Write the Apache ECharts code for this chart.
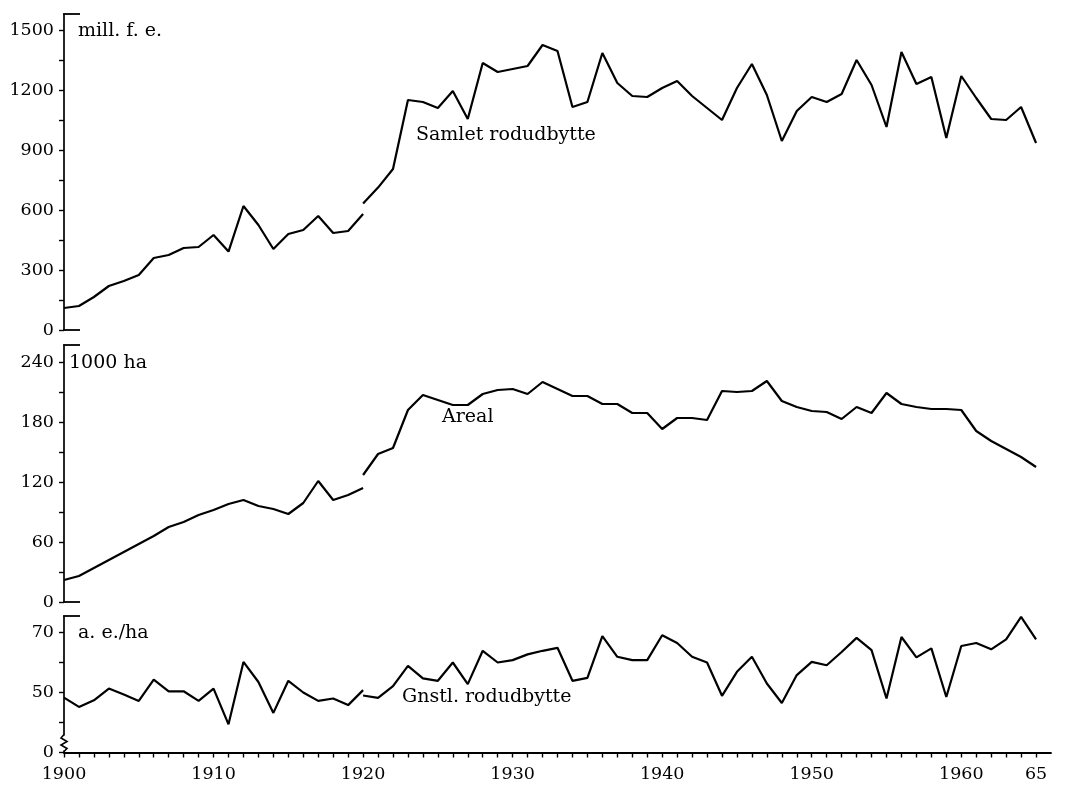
<!DOCTYPE html>
<html>
<head>
<meta charset="utf-8">
<title>Rodudbytte 1900-1965</title>
<script src="https://cdn.jsdelivr.net/npm/echarts@6/dist/echarts.min.js"></script>
<style>
  html, body { margin: 0; padding: 0; background: #fff; }
  #chart { width: 1067px; height: 788px; }
</style>
</head>
<body>
<div id="chart"></div>
<script>
// år - gammel opgørelse (til 1920) og ny opgørelse (fra 1920, incl. Sønderjylland)
var yearsOld = [1900, 1901, 1902, 1903, 1904, 1905, 1906, 1907, 1908, 1909, 1910,
    1911, 1912, 1913, 1914, 1915, 1916, 1917, 1918, 1919, 1920];
var yearsNew = [1920, 1921, 1922, 1923, 1924, 1925, 1926, 1927, 1928, 1929,
    1930, 1931, 1932, 1933, 1934, 1935, 1936, 1937, 1938, 1939,
    1940, 1941, 1942, 1943, 1944, 1945, 1946, 1947, 1948, 1949,
    1950, 1951, 1952, 1953, 1954, 1955, 1956, 1957, 1958, 1959,
    1960, 1961, 1962, 1963, 1964, 1965];

// Samlet rodudbytte, mill. f.e.
var totalOld = [110, 120, 165, 220, 245, 275, 360, 375, 410, 415, 475,
    392, 620, 525, 405, 480, 500, 570, 485, 495, 580];
var totalNew = [632, 712, 805, 1150, 1140, 1110, 1195, 1055, 1335, 1290,
    1305, 1320, 1425, 1395, 1115, 1140, 1385, 1235, 1170, 1165,
    1210, 1245, 1170, 1110, 1050, 1210, 1330, 1175, 945, 1095,
    1165, 1140, 1180, 1350, 1225, 1015, 1390, 1230, 1265, 960,
    1270, 1160, 1055, 1050, 1115, 935];

// Areal, 1000 ha
var areaOld = [22, 26, 34, 42, 50, 58, 66, 75, 80, 87, 92,
    98, 102, 96, 93, 88, 99, 121, 102, 107, 114];
var areaNew = [127, 148, 154, 192, 207, 202, 197, 197, 208, 212,
    213, 208, 220, 213, 206, 206, 198, 198, 189, 189,
    173, 184, 184, 182, 211, 210, 211, 221, 201, 195,
    191, 190, 183, 195, 189, 209, 198, 195, 193, 193,
    192, 171, 161, 153, 145, 135];

// Gnstl. rodudbytte, a.e./ha
var yieldOld = [48.3, 45.2, 47.4, 51.3, 49.3, 47.2, 54.3, 50.4, 50.4, 47.2, 51.3,
    39.4, 60.2, 53.5, 43.2, 53.9, 50, 47.2, 48, 45.8, 50.8];
var yieldNew = [49, 48.2, 52.1, 58.9, 54.7, 53.9, 60, 52.8, 63.9, 60,
    60.8, 62.7, 63.9, 64.9, 53.9, 54.9, 68.8, 61.9, 60.8, 60.8,
    69.1, 66.5, 61.9, 60, 48.9, 56.9, 61.9, 53, 46.5, 55.8,
    60.2, 59.1, 63.5, 68.2, 64.1, 48, 68.5, 61.7, 64.7, 48.5,
    65.5, 66.5, 64.4, 67.7, 75.2, 67.7];

// tick labels
var xLabels = [1900, 1910, 1920, 1930, 1940, 1950, 1960, 1965];
var totalLabels = [0, 300, 600, 900, 1200, 1500];
var totalTicks = [0, 150, 300, 450, 600, 750, 900, 1050, 1200, 1350, 1500];
var areaLabels = [0, 60, 120, 180, 240];
var areaTicks = [0, 30, 60, 90, 120, 150, 180, 210, 240];
var yieldLabels = [30, 50, 70];   // 30 vises som "0" (brudt akse)
var yieldTicks = [30, 40, 50, 60, 70];

var INK = '#000';
var FONT = 'DejaVu Serif';

function pairs(xs, ys) {
    return xs.map(function (x, i) { return [x, ys[i]]; });
}

var yearTicks = [];
for (var y = 1900; y <= 1965; y++) yearTicks.push(y);

function valueAxis(gridIndex, min, max, labels, ticks, fmt) {
    return {
        type: 'value', gridIndex: gridIndex, position: 'left',
        min: min, max: max,
        splitLine: { show: false },
        axisLine: { show: true, lineStyle: { color: INK, width: 1.7 } },
        axisTick: { show: true, inside: false, length: 5, customValues: ticks,
            lineStyle: { color: INK, width: 1.4 } },
        axisLabel: { customValues: labels, margin: 10, color: INK,
            fontFamily: FONT, fontSize: 17.5,
            formatter: fmt || function (v) { return String(v); } }
    };
}
function lineSeries(xi, yi, data) {
    return {
        type: 'line', xAxisIndex: xi, yAxisIndex: yi, data: data,
        showSymbol: false, symbol: 'none', silent: true,
        lineStyle: { color: INK, width: 2.2 }
    };
}
function note(text, x, y) {
    return {
        type: 'text', x: x, y: y, silent: true,
        style: { text: text, fill: INK, font: '19px "' + FONT + '"',
            textVerticalAlign: 'middle' }
    };
}

var chart = echarts.init(document.getElementById('chart'));
var hiddenX = function (gi) {
    return { type: 'value', gridIndex: gi, min: 1900, max: 1966, show: false };
};

var option = {
    animation: false,
    backgroundColor: '#fff',
    grid: [
        { left: 64, right: 16, top: 14, height: 316 },
        { left: 64, right: 16, top: 345, height: 257 },
        { left: 64, right: 16, top: 616, height: 136.5 }
    ],
    xAxis: [
        hiddenX(0),
        hiddenX(1),
        {
            type: 'value', gridIndex: 2, min: 1900, max: 1966,
            splitLine: { show: false },
            axisLine: { show: true, onZero: false, lineStyle: { color: INK, width: 1.8 } },
            axisTick: { show: true, length: 5, customValues: yearTicks,
                lineStyle: { color: INK, width: 1.4 } },
            axisLabel: { customValues: xLabels, margin: 13, color: INK,
                fontFamily: FONT, fontSize: 17.5,
                formatter: function (v) { return v === 1965 ? '65' : String(v); } }
        }
    ],
    yAxis: [
        valueAxis(0, 0, 1580, totalLabels, totalTicks),
        valueAxis(1, 0, 257, areaLabels, areaTicks),
        valueAxis(2, 30, 75.5, yieldLabels, yieldTicks,
            function (v) { return v === 30 ? '0' : String(v); })
    ],
    series: [
        lineSeries(0, 0, pairs(yearsOld, totalOld)),
        lineSeries(0, 0, pairs(yearsNew, totalNew)),
        lineSeries(1, 1, pairs(yearsOld, areaOld)),
        lineSeries(1, 1, pairs(yearsNew, areaNew)),
        lineSeries(2, 2, pairs(yearsOld, yieldOld)),
        lineSeries(2, 2, pairs(yearsNew, yieldNew))
    ]
};
chart.setOption(option);

// hjørne-streger øverst/nederst på hver y-akse (placeret via aksernes skala)
var caps = [
    { gi: 0, values: [0, 1580] },
    { gi: 1, values: [0, 257] },
    { gi: 2, values: [75.5] }
];
var extra = [
    note('mill. f. e.', 78, 31),
    note('Samlet rodudbytte', 416, 135),
    note('1000 ha', 69, 363),
    note('Areal', 442, 417),
    note('a. e./ha', 78, 633),
    note('Gnstl. rodudbytte', 402, 697)
];
caps.forEach(function (c) {
    c.values.forEach(function (v) {
        var p = chart.convertToPixel({ xAxisIndex: c.gi, yAxisIndex: c.gi }, [1900, v]);
        extra.push({
            type: 'line', silent: true, z: 50,
            shape: { x1: p[0] - 0.8, y1: p[1], x2: p[0] + 16, y2: p[1] },
            style: { stroke: INK, lineWidth: 1.8 }
        });
    });
});
// brudt akse ved 0 i nederste panel
var b = chart.convertToPixel({ xAxisIndex: 2, yAxisIndex: 2 }, [1900, 30]);
extra.push({ type: 'rect', z: 100, silent: true,
    shape: { x: b[0] - 4, y: b[1] - 17, width: 8, height: 15 },
    style: { fill: '#fff' } });
extra.push({ type: 'polyline', z: 101, silent: true,
    shape: { points: [[b[0], b[1] - 18], [b[0] - 3, b[1] - 14.5], [b[0] + 3, b[1] - 11],
        [b[0] - 3, b[1] - 7.5], [b[0] + 3, b[1] - 4], [b[0], b[1] - 1]] },
    style: { stroke: INK, lineWidth: 1.6, fill: null } });
chart.setOption({ graphic: extra });

window.addEventListener('resize', function () { chart.resize(); });
</script>
</body>
</html>
